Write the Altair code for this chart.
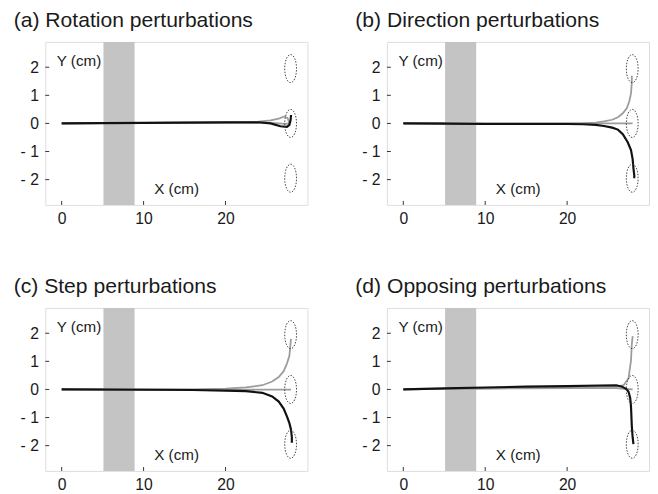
import altair as alt
import pandas as pd

FONT = "Liberation Sans"
W, H = 267, 166

titles = {
    "a": "(a) Rotation perturbations",
    "b": "(b) Direction perturbations",
    "c": "(c) Step perturbations",
    "d": "(d) Opposing perturbations",
}
x_domain = [-2, 30]
y_domain = [-2.9, 2.9]
x_ticks = [0, 10, 20]
y_ticks = [-2, -1, 0, 1, 2]
band_x = [5.1, 8.9]
target_x = [27.95, 27.95, 27.95]
target_y = [1.95, 0.0, -1.95]

# (a) rotation perturbations
a_g1_x = [0, 5, 10, 15, 20, 24, 25.5, 26.5, 27.2, 27.6, 27.8]
a_g1_y = [0, 0.01, 0.02, 0.03, 0.04, 0.06, 0.11, 0.17, 0.25, 0.18, 0.02]
a_g2_x = [0, 5, 10, 15, 20, 24, 26, 27.3, 27.8]
a_g2_y = [0, 0.01, 0.02, 0.03, 0.03, 0.03, 0.01, -0.02, 0.0]
a_k_x = [0, 5, 10, 15, 20, 24, 25.5, 26.7, 27.5, 27.8, 27.95, 28.0]
a_k_y = [0, 0.01, 0.02, 0.03, 0.04, 0.04, 0.0, -0.1, -0.12, -0.05, 0.12, 0.3]

# (b) direction perturbations
b_g1_x = [0, 5, 10, 15, 20, 22, 23.5, 24.5, 25.5, 26.2, 26.8, 27.3, 27.6, 27.8, 27.9, 27.9]
b_g1_y = [0, 0, 0, 0, 0, 0.01, 0.03, 0.07, 0.13, 0.22, 0.36, 0.55, 0.8, 1.07, 1.47, 1.7]
b_g2_x = [0, 10, 20, 28.0]
b_g2_y = [0, 0, 0, 0]
b_k_x = [0, 5, 10, 15, 20, 22, 23.5, 24.5, 25.5, 26.2, 26.8, 27.4, 27.8, 28.0, 28.1, 28.2, 28.2]
b_k_y = [0, -0.01, -0.02, -0.02, -0.02, -0.03, -0.05, -0.09, -0.15, -0.22, -0.38, -0.67, -0.95, -1.27, -1.6, -1.85, -1.95]

# (c) step perturbations
c_g1_x = [0, 10, 16, 20, 22.5, 24.5, 25.7, 26.5, 27.1, 27.5, 27.8, 27.9, 28.0]
c_g1_y = [0, 0, 0.0, 0.03, 0.07, 0.15, 0.28, 0.44, 0.65, 0.92, 1.2, 1.5, 1.8]
c_g2_x = [0, 10, 20, 28.0]
c_g2_y = [0, -0.01, -0.01, -0.01]
c_k_x = [0, 10, 16, 20, 22.5, 24.5, 25.7, 26.5, 27.1, 27.5, 27.8, 28.0, 28.1, 28.1]
c_k_y = [0, -0.01, -0.02, -0.04, -0.06, -0.12, -0.25, -0.43, -0.68, -0.96, -1.2, -1.43, -1.7, -1.9]

# (d) opposing perturbations
d_g1_x = [0, 5, 10, 15, 20, 26, 26.9, 27.5, 27.8, 27.9, 28.0]
d_g1_y = [0, 0.02, 0.04, 0.05, 0.07, 0.1, 0.15, 0.4, 1.03, 1.61, 1.9]
d_g2_x = [0, 5, 10, 15, 20, 26, 27, 28.0]
d_g2_y = [0, 0.02, 0.03, 0.04, 0.05, 0.05, 0.02, 0.0]
d_k_x = [0, 5, 10, 15, 20, 24, 26, 26.7, 27.2, 27.5, 27.7, 27.8, 27.9, 28.0, 28.1]
d_k_y = [0, 0.04, 0.07, 0.1, 0.12, 0.14, 0.15, 0.1, 0.02, -0.08, -0.3, -0.61, -1.31, -1.7, -1.95]

traces = {
    "a": [("g1", "gray", a_g1_x, a_g1_y), ("g2", "gray", a_g2_x, a_g2_y), ("k", "black", a_k_x, a_k_y)],
    "b": [("g1", "gray", b_g1_x, b_g1_y), ("g2", "gray", b_g2_x, b_g2_y), ("k", "black", b_k_x, b_k_y)],
    "c": [("g1", "gray", c_g1_x, c_g1_y), ("g2", "gray", c_g2_x, c_g2_y), ("k", "black", c_k_x, c_k_y)],
    "d": [("g1", "gray", d_g1_x, d_g1_y), ("g2", "gray", d_g2_x, d_g2_y), ("k", "black", d_k_x, d_k_y)],
}

ELLIPSE = ("M0,-1 C0.232,-1 0.42,-0.552 0.42,0 C0.42,0.552 0.232,1 0,1 "
           "C-0.232,1 -0.42,0.552 -0.42,0 C-0.42,-0.552 -0.232,-1 0,-1 Z")


def panel(key):
    rows = []
    for name, shade, xs_, ys_ in traces[key]:
        for i, (xv, yv) in enumerate(zip(xs_, ys_)):
            rows.append({"trace": name, "shade": shade, "i": i, "x": xv, "y": yv})
    df = pd.DataFrame(rows)
    xs = alt.Scale(domain=x_domain, nice=False, zero=False, padding=0)
    ys = alt.Scale(domain=y_domain, nice=False, zero=False, padding=0)
    xaxis = alt.Axis(values=x_ticks, title=None, ticks=False, domain=False, grid=False,
                     labelPadding=6, labelFontSize=16, labelFont=FONT, labelColor="#1a1a1a")
    yaxis = alt.Axis(values=y_ticks, title=None, ticks=False, domain=False, grid=False,
                     labelPadding=7, labelFontSize=16, labelFont=FONT, labelColor="#1a1a1a",
                     labelExpr="datum.value < 0 ? '- ' + abs(datum.value) : '' + datum.value")

    band = alt.Chart(pd.DataFrame({"x0": [band_x[0]], "x1": [band_x[1]]})).mark_rect(
        color="#c4c4c4").encode(
        x=alt.X("x0:Q", scale=xs, axis=xaxis), x2="x1:Q",
        y=alt.value(0), y2=alt.value(H))

    gray = alt.Chart(df[df.shade == "gray"]).mark_line(
        color="#9c9c9c", strokeWidth=1.8, clip=True).encode(
        x=alt.X("x:Q", scale=xs, axis=xaxis),
        y=alt.Y("y:Q", scale=ys, axis=yaxis),
        detail="trace:N", order="i:Q")
    black = alt.Chart(df[df.shade == "black"]).mark_line(
        color="#111111", strokeWidth=2.2, clip=True).encode(
        x=alt.X("x:Q", scale=xs), y=alt.Y("y:Q", scale=ys),
        detail="trace:N", order="i:Q")

    ell = alt.Chart(pd.DataFrame({"x": target_x, "y": target_y})).mark_point(
        shape=ELLIPSE, size=818, filled=False, stroke="#444", strokeWidth=1,
        strokeDash=[1.5, 1.5], opacity=1).encode(
        x=alt.X("x:Q", scale=xs), y=alt.Y("y:Q", scale=ys))

    xt = alt.Chart(pd.DataFrame({"x": x_ticks})).mark_rule(color="#333").encode(
        x=alt.X("x:Q", scale=xs), y=alt.value(H), y2=alt.value(H - 4))
    yt = alt.Chart(pd.DataFrame({"y": y_ticks})).mark_rule(color="#333").encode(
        y=alt.Y("y:Q", scale=ys), x=alt.value(0), x2=alt.value(4))

    lab = alt.Chart(pd.DataFrame({"x": [-0.6, 11.3], "y": [2.23, -2.32],
                                  "t": ["Y (cm)", "X (cm)"]})).mark_text(
        align="left", baseline="middle", font=FONT, fontSize=15.5, color="#1a1a1a").encode(
        x=alt.X("x:Q", scale=xs), y=alt.Y("y:Q", scale=ys), text="t:N")

    return alt.layer(band, gray, black, ell, xt, yt, lab).properties(
        width=W, height=H,
        title=alt.TitleParams(titles[key], anchor="start", fontSize=21.5, fontWeight="normal",
                              font=FONT, color="#1a1a1a", dx=-6.5, offset=-6,
                              baseline="alphabetic"))


top = alt.hconcat(panel("a"), panel("b"), spacing=47)
bottom = alt.hconcat(panel("c"), panel("d"), spacing=47)
chart = alt.vconcat(top, bottom, spacing=49).configure_view(
    stroke="#555", strokeWidth=1).configure(padding={"left": 5, "top": -3, "right": 0, "bottom": 0})

chart.save("out.html", embed_options={"renderer": "svg", "actions": False})
